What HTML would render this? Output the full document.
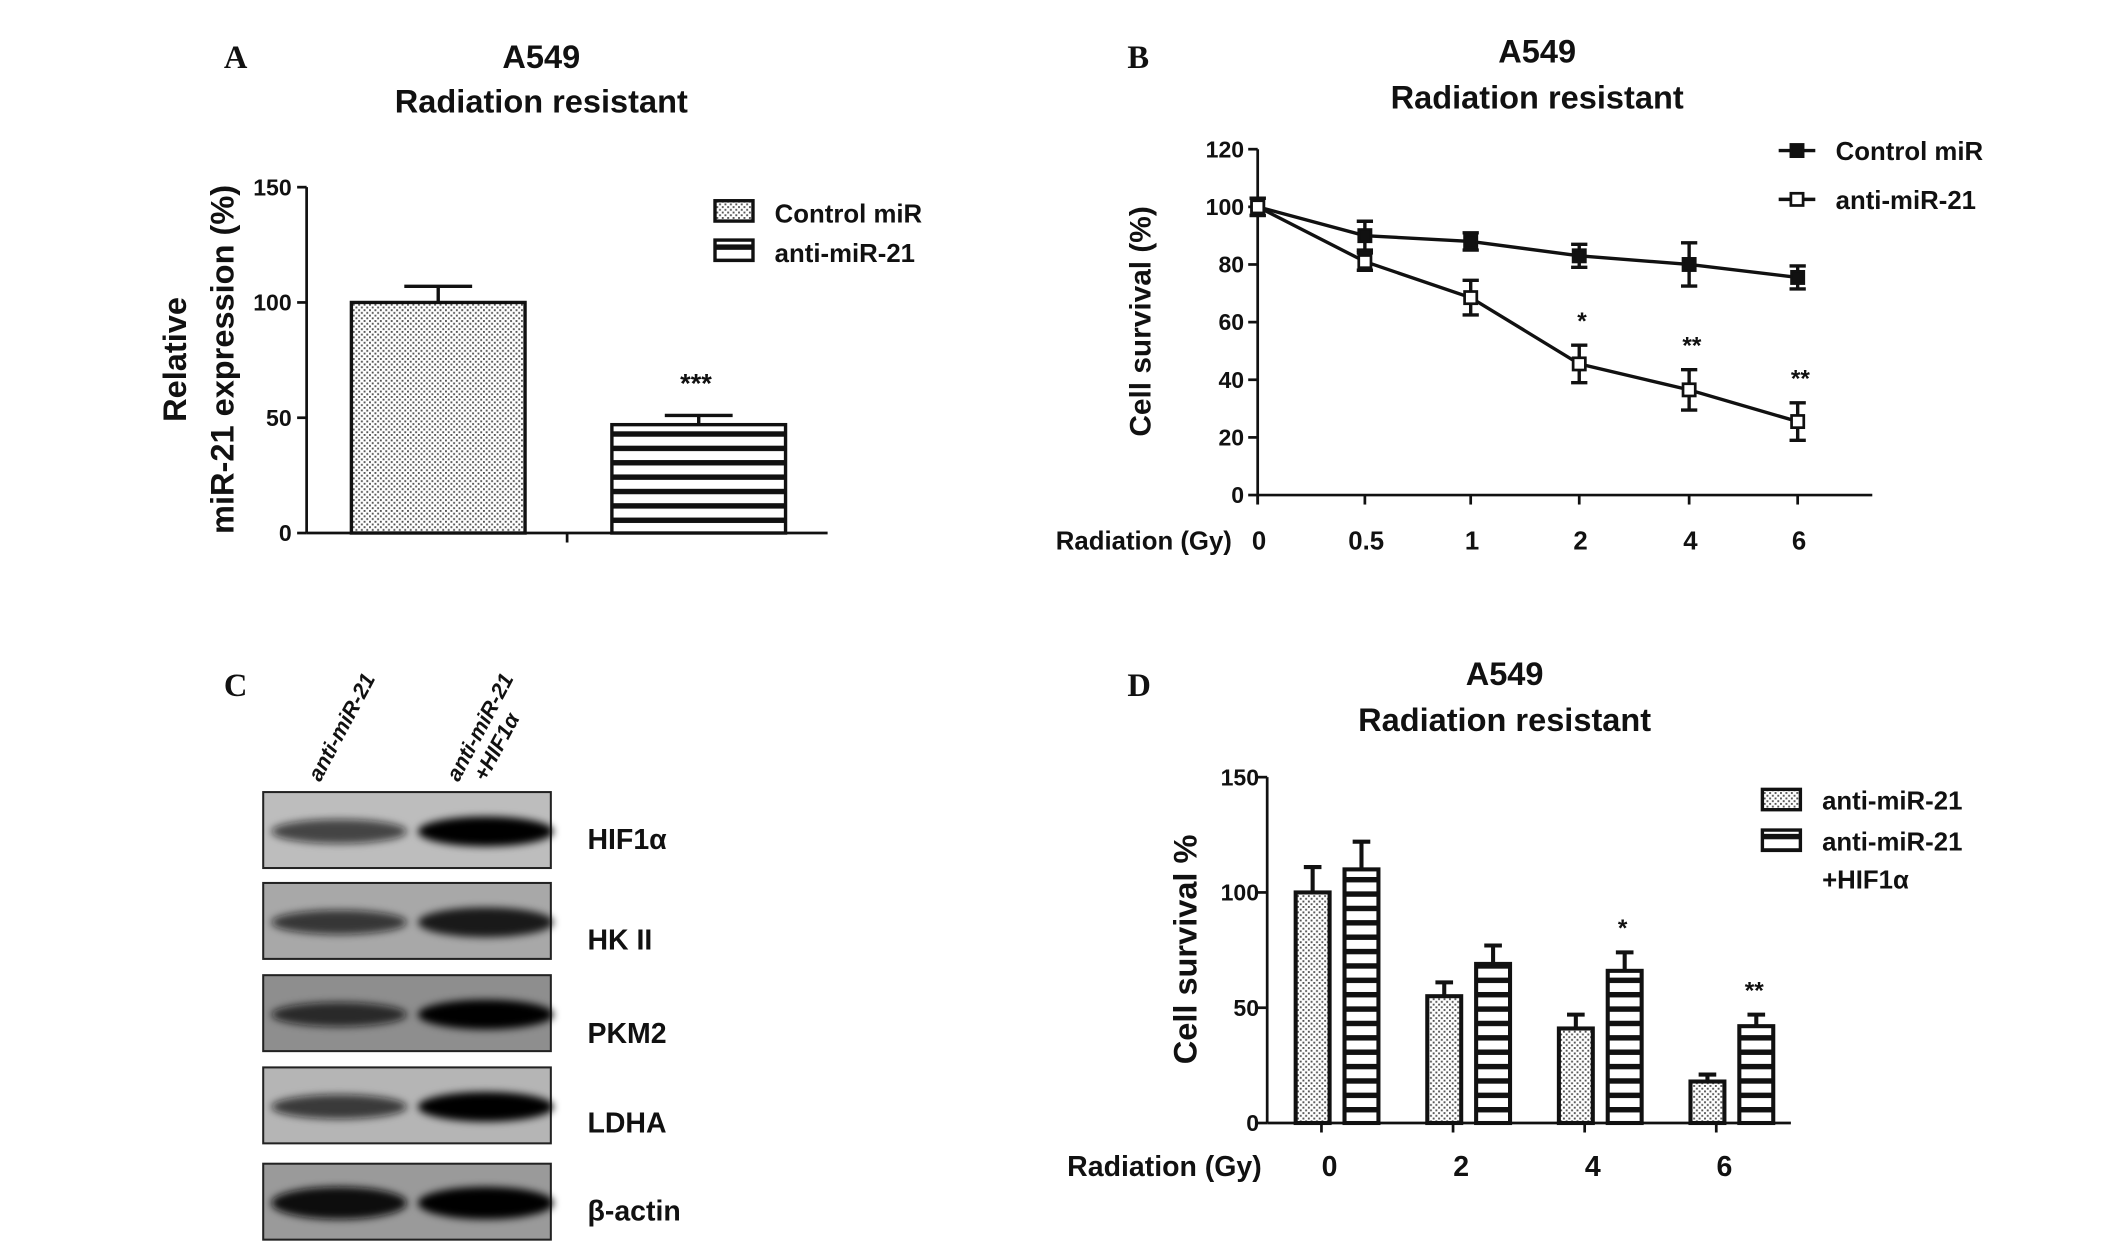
<!DOCTYPE html>
<html><head><meta charset="utf-8">
<style>
html,body{margin:0;padding:0;background:#fff;}
svg{display:block;font-family:"Liberation Sans",Arial,sans-serif;}
text{font-weight:bold;fill:#111;}
</style></head>
<body>
<svg id="fig" width="2126" height="1260" viewBox="0 0 1567 929" preserveAspectRatio="none" xmlns="http://www.w3.org/2000/svg">
<defs>
<pattern id="dots" width="4" height="4" patternUnits="userSpaceOnUse">
<rect width="4" height="4" fill="#fff"/><rect x="0" y="0" width="1.4" height="1.4" fill="#555"/><rect x="2" y="2" width="1.4" height="1.4" fill="#555"/>
</pattern>
<pattern id="stripes" width="10" height="10.6" patternUnits="userSpaceOnUse">
<rect width="10" height="10.6" fill="#fff"/><rect y="0" width="10" height="4" fill="#111"/>
</pattern>
<filter id="blur" x="-20%" y="-100%" width="140%" height="300%"><feGaussianBlur stdDeviation="3"/></filter>
</defs>

<text x="165" y="50" font-family="Liberation Serif" font-size="24">A</text>
<text x="831" y="50" font-family="Liberation Serif" font-size="24">B</text>
<text x="165" y="513" font-family="Liberation Serif" font-size="24">C</text>
<text x="831" y="513" font-family="Liberation Serif" font-size="24">D</text>

<g font-size="24" text-anchor="middle">
<text x="399" y="50">A549</text>
<text x="399" y="83">Radiation resistant</text>
<text x="1133" y="46">A549</text>
<text x="1133" y="80">Radiation resistant</text>
<text x="1109" y="505">A549</text>
<text x="1109" y="539">Radiation resistant</text>
</g>

<g id="chartA"></g>
<g id="chartB"></g>
<g id="chartD"></g>

<g>
<text transform="translate(236,577) rotate(-62)" font-size="16" font-style="italic" fill="#222">anti-miR-21</text>
<text transform="translate(338,577) rotate(-62)" font-size="16" font-style="italic" fill="#222">anti-miR-21</text>
<text transform="translate(358,577) rotate(-62)" font-size="16" font-style="italic" fill="#222">+HIF1α</text>
</g>
<g id="blot"></g>

<script>
const NS="http://www.w3.org/2000/svg";
function mk(parent,tag,attrs,txt){const e=document.createElementNS(NS,tag);for(const k in attrs)e.setAttribute(k,attrs[k]);if(txt!==undefined)e.textContent=txt;parent.appendChild(e);return e;}

const aCategories=["Control miR","anti-miR-21"];
const aValues=[100,47];
const aErrors=[7,4];
const aTicks=[0,50,100,150];
const aStars=["","***"];

const bDoses=["0","0.5","1","2","4","6"];
const bControl=[100,90,88,83,80,75.5];
const bControlErr=[3,5,3,4,7.5,4];
const bAnti=[100,81,68.5,45.5,36.5,25.5];
const bAntiErr=[3,3,6,6.5,7,6.5];
const bStars=["","","","*","**","**"];
const bTicks=[0,20,40,60,80,100,120];

const dDoses=["0","2","4","6"];
const dAnti=[100,55,41,18];
const dAntiErr=[11,6,6,3];
const dHif=[110,69,66,42];
const dHifErr=[12,8,8,5];
const dStars=["","","*","**"];
const dTicks=[0,50,100,150];

(function(){
const g=document.getElementById('chartA');
const y=v=>393-v*(393-138)/150;
const bx=[259,451], bw=128;
mk(g,'line',{x1:226,y1:138,x2:226,y2:393,stroke:'#111','stroke-width':2});
mk(g,'line',{x1:226,y1:393,x2:610,y2:393,stroke:'#111','stroke-width':2});
mk(g,'line',{x1:418,y1:393,x2:418,y2:400,stroke:'#111','stroke-width':2});
aTicks.forEach(t=>{
 const l=mk(g,'line',{x1:219,y1:y(t),x2:226,y2:y(t),stroke:'#111','stroke-width':2});
 
 
 const tx=mk(g,'text',{x:215,y:y(t)+6,'font-size':17,'text-anchor':'end'},t);
 
 
});
aValues.forEach((v,i)=>{
 const fill=i===0?'url(#dots)':'url(#stripes)';
 const r=mk(g,'rect',{x:bx[i],y:y(v),width:bw,height:393-y(v),fill:fill,stroke:'#111','stroke-width':2.5});
 
 
 const cx=bx[i]+bw/2;
 mk(g,'line',{x1:cx,y1:y(v),x2:cx,y2:y(v+aErrors[i]),stroke:'#111','stroke-width':2.5});
 mk(g,'line',{x1:cx-25,y1:y(v+aErrors[i]),x2:cx+25,y2:y(v+aErrors[i]),stroke:'#111','stroke-width':2.5});
 if(aStars[i]){const s=mk(g,'text',{x:cx-2,y:y(v+aErrors[i])-17,'font-size':20,'text-anchor':'middle'},aStars[i]);
 
 }
});
const yt=mk(g,'text',{transform:'translate(137,265) rotate(-90)','font-size':24,'text-anchor':'middle'},'Relative');


const yt2=mk(g,'text',{transform:'translate(172,265) rotate(-90)','font-size':24,'text-anchor':'middle'},'miR-21 expression (%)');


[['url(#dots)',148,157],['url(#stripes)',177,186]].forEach((L,i)=>{
 const sw=mk(g,'rect',{x:527,y:L[1],width:28,height:15,fill:L[0],stroke:'#111','stroke-width':2.5});
 
 
 const t=mk(g,'text',{x:571,y:L[2]+7,'font-size':19},aCategories[i]);
 
 
});
})();

(function(){
const g=document.getElementById('chartB');
const y=v=>365-v*(365-110)/120;
const xs=[927,1006,1084,1164,1245,1325];
const x=i=>xs[i];
mk(g,'line',{x1:927,y1:110,x2:927,y2:372,stroke:'#111','stroke-width':2});
mk(g,'line',{x1:927,y1:365,x2:1380,y2:365,stroke:'#111','stroke-width':2});
bTicks.forEach(t=>{
 mk(g,'line',{x1:920,y1:y(t),x2:927,y2:y(t),stroke:'#111','stroke-width':2});
 const tx=mk(g,'text',{x:917,y:y(t)+6,'font-size':17,'text-anchor':'end'},t);
 
 
});
bDoses.forEach((d,i)=>{
 mk(g,'line',{x1:x(i),y1:365,x2:x(i),y2:372,stroke:'#111','stroke-width':2});
 const tx=mk(g,'text',{x:x(i)+1,y:405,'font-size':19,'text-anchor':'middle'},d);
 
 
});
const xt=mk(g,'text',{x:908,y:405,'font-size':19,'text-anchor':'end'},'Radiation (Gy)');


const yt=mk(g,'text',{transform:'translate(848,237) rotate(-90)','font-size':22,'text-anchor':'middle'},'Cell survival (%)');


function series(vals,errs,open,name){
 const p=mk(g,'polyline',{points:vals.map((v,i)=>x(i)+','+y(v)).join(' '),fill:'none',stroke:'#111','stroke-width':2.5});
 
 
 vals.forEach((v,i)=>{
  const e=errs[i];
  mk(g,'line',{x1:x(i),y1:y(v+e),x2:x(i),y2:y(v-e),stroke:'#111','stroke-width':2.5});
  mk(g,'line',{x1:x(i)-6,y1:y(v+e),x2:x(i)+6,y2:y(v+e),stroke:'#111','stroke-width':2.5});
  mk(g,'line',{x1:x(i)-6,y1:y(v-e),x2:x(i)+6,y2:y(v-e),stroke:'#111','stroke-width':2.5});
  const m=mk(g,'rect',{x:x(i)-4.5,y:y(v)-4.5,width:9,height:9,fill:open?'#fff':'#111',stroke:'#111','stroke-width':2});
  
  
 });
}
series(bControl,bControlErr,false,'control-mir');
series(bAnti,bAntiErr,true,'anti-mir-21');
bStars.forEach((s,i)=>{if(!s)return;
 const t=mk(g,'text',{x:x(i)+2,y:y(bAnti[i]+bAntiErr[i])-12,'font-size':18,'text-anchor':'middle'},s);
 
 
});
[['Control miR',111,false],['anti-miR-21',147,true]].forEach((L,i)=>{
 mk(g,'line',{x1:1311,y1:L[1],x2:1338,y2:L[1],stroke:'#111','stroke-width':2.5});
 const m=mk(g,'rect',{x:1320,y:L[1]-4.5,width:9,height:9,fill:L[2]?'#fff':'#111',stroke:'#111','stroke-width':2});
 
 
 const t=mk(g,'text',{x:1353,y:L[1]+7,'font-size':19},L[0]);
 
 
});
})();

(function(){
const g=document.getElementById('chartD');
const y=v=>828-v*(828-573)/150;
const xc=[980,1077,1174,1271];
const bw=25;
mk(g,'line',{x1:934,y1:573,x2:934,y2:828,stroke:'#111','stroke-width':2});
mk(g,'line',{x1:934,y1:828,x2:1320,y2:828,stroke:'#111','stroke-width':2});
dTicks.forEach(t=>{
 mk(g,'line',{x1:927,y1:y(t),x2:934,y2:y(t),stroke:'#111','stroke-width':2});
 const tx=mk(g,'text',{x:928,y:y(t)+6,'font-size':17,'text-anchor':'end'},t);
 
 
});
const xt=mk(g,'text',{x:930,y:867,'font-size':21,'text-anchor':'end'},'Radiation (Gy)');


const yt=mk(g,'text',{transform:'translate(882,700) rotate(-90)','font-size':24,'text-anchor':'middle'},'Cell survival %');


function bar(x0,v,e,fill,name){
 const r=mk(g,'rect',{x:x0,y:y(v),width:bw,height:828-y(v),fill:fill,stroke:'#111','stroke-width':3});
 
 
 const cx=x0+bw/2;
 mk(g,'line',{x1:cx,y1:y(v),x2:cx,y2:y(v+e),stroke:'#111','stroke-width':3});
 mk(g,'line',{x1:cx-6.5,y1:y(v+e),x2:cx+6.5,y2:y(v+e),stroke:'#111','stroke-width':3});
}
dDoses.forEach((d,i)=>{
 mk(g,'line',{x1:xc[i]-6,y1:828,x2:xc[i]-6,y2:835,stroke:'#111','stroke-width':2});
 bar(xc[i]-25,dAnti[i],dAntiErr[i],'url(#dots)','bar-anti-mir-21-'+d);
 bar(xc[i]+11,dHif[i],dHifErr[i],'url(#stripes)','bar-anti-mir-21-hif1a-'+d);
 const tx=mk(g,'text',{x:xc[i],y:867,'font-size':21,'text-anchor':'middle'},d);
 
 
 if(dStars[i]){const s=mk(g,'text',{x:xc[i]+22,y:y(dHif[i]+dHifErr[i])-12,'font-size':18,'text-anchor':'middle'},dStars[i]);
 
 }
});
const s1=mk(g,'rect',{x:1299,y:582,width:28,height:15,fill:'url(#dots)',stroke:'#111','stroke-width':2.5});


const s2=mk(g,'rect',{x:1299,y:612,width:28,height:15,fill:'url(#stripes)',stroke:'#111','stroke-width':2.5});


const t1=mk(g,'text',{x:1343,y:597,'font-size':19},'anti-miR-21');


const t2=mk(g,'text',{x:1343,y:627,'font-size':19},'anti-miR-21');


const t3=mk(g,'text',{x:1343,y:655,'font-size':19},'+HIF1α');


})();

(function(){
const g=document.getElementById('blot');
const proteins=["HIF1α","HK II","PKM2","LDHA","β-actin"];
const boxTop=[584,651,719,787,858];
const boxH=[56,56,56,56,56];
const bg=['#bdbdbd','#a8a8a8','#8e8e8e','#b5b5b5','#9a9a9a'];
const lane1=[0.7,0.75,0.8,0.75,1];
const lane2=[1,0.85,1,1,1];
const labelY=[626,700,769,835,900];
proteins.forEach((p,i)=>{
 const r=mk(g,'rect',{x:194,y:boxTop[i],width:212,height:boxH[i],fill:bg[i],stroke:'#222','stroke-width':1.5});
 
 
 const cy=boxTop[i]+boxH[i]/2+1;
 mk(g,'ellipse',{cx:250,cy:cy,rx:50,ry:i===4?12:9,fill:'#111','fill-opacity':lane1[i],filter:'url(#blur)'});
 mk(g,'ellipse',{cx:358,cy:cy,rx:50,ry:i===4?12:11,fill:'#000','fill-opacity':lane2[i],filter:'url(#blur)'});
 const t=mk(g,'text',{x:433,y:labelY[i],'font-size':21,fill:'#222'},p);
 
 
});
})();
</script>
</svg>
</body></html>
